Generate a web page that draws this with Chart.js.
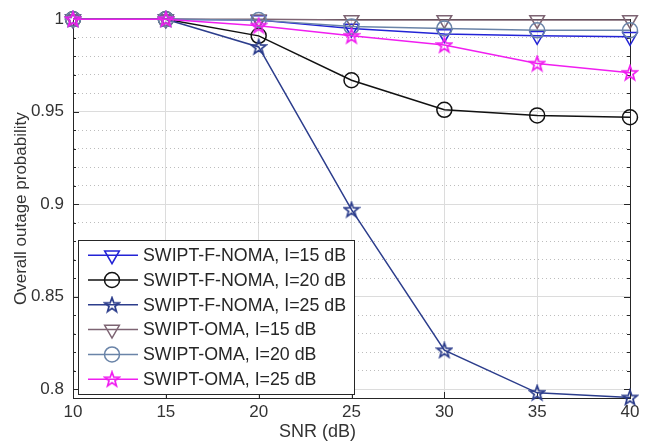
<!DOCTYPE html>
<html>
<head>
<meta charset="utf-8">
<script src="https://cdn.jsdelivr.net/npm/chart.js@4/dist/chart.umd.min.js"></script>
<style>
html,body{margin:0;padding:0;background:#fff;}
#wrap{position:relative;width:652px;height:444px;}
</style>
</head>
<body>
<div id="wrap"><canvas id="c" width="652" height="444"></canvas></div>
<script>
// ---- data ----
const snr = [10, 15, 20, 25, 30, 35, 40];
const fnomaI15 = [1, 1, 0.9995, 0.995, 0.992, 0.991, 0.9905];
const fnomaI20 = [1, 1, 0.991, 0.967, 0.951, 0.948, 0.947];
const fnomaI25 = [1, 1, 0.985, 0.897, 0.821, 0.798, 0.7955];
const omaI15 = [1, 1, 1, 0.9996, 0.9996, 0.9996, 0.9996];
const omaI20 = [1, 1, 0.9995, 0.996, 0.995, 0.994, 0.994];
const omaI25 = [1, 1, 0.9965, 0.991, 0.986, 0.976, 0.971];
const seriesNames = [
  'SWIPT-F-NOMA, I=15 dB',
  'SWIPT-F-NOMA, I=20 dB',
  'SWIPT-F-NOMA, I=25 dB',
  'SWIPT-OMA, I=15 dB',
  'SWIPT-OMA, I=20 dB',
  'SWIPT-OMA, I=25 dB'
];
const xTicks = [10, 15, 20, 25, 30, 35, 40];
const yTicks = [0.80,0.81,0.82,0.83,0.84,0.85,0.86,0.87,0.88,0.89,0.90,0.91,0.92,0.93,0.94,0.95,0.96,0.97,0.98,0.99,1.00];
const yTickLabels = {'0.8':'0.8','0.85':'0.85','0.9':'0.9','0.95':'0.95','1':'1'};

// ---- styles ----
const FONT = '"Liberation Sans", Arial, Helvetica, sans-serif';
function makeStar(color) {
  const s = 18, c = document.createElement('canvas');
  c.width = s; c.height = s;
  const g = c.getContext('2d');
  g.beginPath();
  for (let i = 0; i < 10; i++) {
    const r = i % 2 ? 3.1 : 7.6;
    const a = -Math.PI / 2 + i * Math.PI / 5;
    const px = s / 2 + r * Math.cos(a), py = s / 2 + 0.5 + r * Math.sin(a);
    if (i === 0) g.moveTo(px, py); else g.lineTo(px, py);
  }
  g.closePath();
  g.strokeStyle = color; g.lineWidth = 1.7; g.stroke();
  return c;
}
const colors = ['#2323d6', '#111111', '#2c3d8c', '#7d6473', '#6a84a8', '#f01ef0'];
const styles = [
  {pointStyle: 'triangle', rotation: 180, radius: 8.5},
  {pointStyle: 'circle', rotation: 0, radius: 7.5},
  {pointStyle: makeStar(colors[2]), rotation: 0, radius: 8},
  {pointStyle: 'triangle', rotation: 180, radius: 8.5},
  {pointStyle: 'circle', rotation: 0, radius: 7.5},
  {pointStyle: makeStar(colors[5]), rotation: 0, radius: 8}
];
const seriesValues = [fnomaI15, fnomaI20, fnomaI25, omaI15, omaI20, omaI25];

const datasets = seriesValues.map((vals, i) => ({
  label: seriesNames[i],
  data: snr.map((x, k) => ({x: x, y: vals[k]})),
  borderColor: colors[i],
  backgroundColor: 'rgba(0,0,0,0)',
  borderWidth: 1.5,
  pointStyle: styles[i].pointStyle,
  pointRotation: styles[i].rotation,
  pointRadius: styles[i].radius,
  pointHoverRadius: styles[i].radius,
  pointBorderColor: colors[i],
  pointBackgroundColor: 'rgba(0,0,0,0)',
  pointBorderWidth: 1.5,
  order: 5 - i,
  clip: false,
  tension: 0
}));

function isMajor(v) { return Math.abs(v * 20 - Math.round(v * 20)) < 1e-6; }

const boxPlugin = {
  id: 'boxPlugin',
  beforeDatasetsDraw(chart) {
    const {ctx, chartArea: a, scales} = chart;
    ctx.save();
    ctx.strokeStyle = '#262626';
    ctx.lineWidth = 1;
    ctx.strokeRect(Math.round(a.left) + 0.5, Math.round(a.top) + 0.5, Math.round(a.right - a.left), Math.round(a.bottom - a.top));
    // inward ticks
    ctx.beginPath();
    yTicks.forEach(v => {
      const py = Math.round(scales.y.getPixelForValue(v)) + 0.5;
      const len = isMajor(v) ? 6 : 3;
      ctx.moveTo(a.left, py); ctx.lineTo(a.left + len, py);
      ctx.moveTo(a.right, py); ctx.lineTo(a.right - len, py);
    });
    xTicks.forEach(v => {
      const px = Math.round(scales.x.getPixelForValue(v)) + 0.5;
      ctx.moveTo(px, a.bottom); ctx.lineTo(px, a.bottom - 6);
    });
    ctx.stroke();
    ctx.restore();
  },
  afterDraw(chart) {
    const {ctx, chartArea: a} = chart;
    ctx.save();
    // x title
    ctx.font = '18px ' + FONT;
    ctx.fillStyle = '#333';
    ctx.textAlign = 'center';
    ctx.textBaseline = 'middle';
    ctx.fillText('SNR (dB)', (a.left + a.right) / 2 - 34, 432);
    // legend
    const lx = a.left + 5, lw = 276, rowH = 24.8, lh = rowH * 6 + 5;
    const ly = a.bottom - 4 - lh;
    ctx.fillStyle = '#fff';
    ctx.fillRect(lx, ly, lw, lh);
    ctx.strokeStyle = '#262626';
    ctx.lineWidth = 1;
    ctx.strokeRect(Math.round(lx) + 0.5, Math.round(ly) + 0.5, lw, Math.round(lh));
    ctx.font = '17.8px ' + FONT;
    ctx.textAlign = 'left';
    ctx.textBaseline = 'middle';
    seriesNames.forEach((name, i) => {
      const cy = ly + 15 + i * rowH;
      ctx.strokeStyle = colors[i];
      ctx.lineWidth = 1.5;
      ctx.beginPath();
      ctx.moveTo(lx + 10, cy); ctx.lineTo(lx + 60, cy);
      ctx.stroke();
      const st = styles[i];
      const mx = lx + 34;
      if (typeof st.pointStyle !== 'string') {
        ctx.drawImage(st.pointStyle, mx - st.pointStyle.width / 2, cy - st.pointStyle.height / 2);
      } else if (st.pointStyle === 'circle') {
        ctx.beginPath(); ctx.arc(mx, cy, st.radius, 0, Math.PI * 2); ctx.stroke();
      } else {
        const r = st.radius;
        ctx.beginPath();
        ctx.moveTo(mx - r * 0.866, cy - r * 0.5);
        ctx.lineTo(mx + r * 0.866, cy - r * 0.5);
        ctx.lineTo(mx, cy + r);
        ctx.closePath(); ctx.stroke();
      }
      ctx.fillStyle = '#262626';
      ctx.fillText(name, lx + 65, cy + 1);
    });
    ctx.restore();
  }
};

new Chart(document.getElementById('c'), {
  type: 'line',
  data: {datasets: datasets},
  options: {
    responsive: false,
    animation: false,
    events: [],
    layout: {padding: {top: 17, right: 22, left: 0, bottom: 0}},
    plugins: {legend: {display: false}, tooltip: {enabled: false}},
    scales: {
      x: {
        type: 'linear',
        min: 10, max: 40,
        afterBuildTicks(scale) { scale.ticks = xTicks.map(v => ({value: v})); },
        afterFit(scale) { scale.height = 46; },
        ticks: {
          color: '#333',
          font: {family: FONT, size: 17},
          padding: 4,
          maxRotation: 0,
          callback: v => String(v)
        },
        grid: {color: '#dcdcdc', lineWidth: 1, drawTicks: false},
        border: {display: true, color: '#262626'},
        title: {display: false}
      },
      y: {
        type: 'linear',
        min: 0.7952, max: 1,
        afterBuildTicks(scale) { scale.ticks = yTicks.map(v => ({value: v})); },
        afterFit(scale) { scale.width = 73; },
        ticks: {
          color: '#333',
          font: {family: FONT, size: 17},
          padding: 9,
          autoSkip: false,
          callback: function(v) {
            const key = String(Math.round(v * 100) / 100);
            return isMajor(v) ? (yTickLabels[key] || key) : '';
          }
        },
        grid: {
          drawTicks: false,
          lineWidth: 1,
          color: ctx => (ctx.tick && isMajor(ctx.tick.value)) ? '#dcdcdc' : '#bdbdbd'
        },
        border: {
          display: true, color: '#262626',
          dash: ctx => (ctx.tick && isMajor(ctx.tick.value)) ? [] : [1, 3]
        },
        title: {
          display: true,
          text: 'Overall outage probability',
          color: '#333',
          font: {family: FONT, size: 17},
          padding: {top: 11, bottom: 0}
        }
      }
    }
  },
  plugins: [boxPlugin]
});
</script>
</body>
</html>
